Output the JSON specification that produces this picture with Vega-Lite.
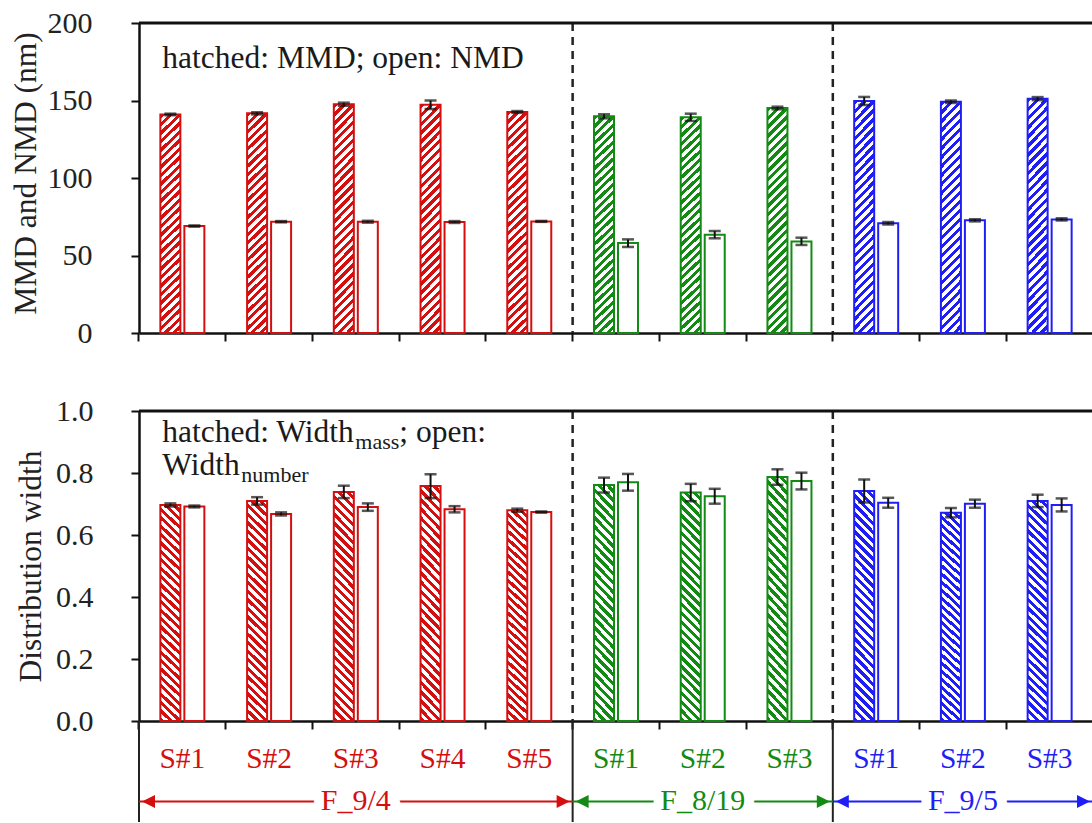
{
  "$schema": "https://vega.github.io/schema/vega-lite/v6.json",
  "background": "white",
  "padding": {"left": 10, "top": 8, "right": 0, "bottom": 0},
  "config": {
    "view": {"stroke": null},
    "font": "Liberation Serif",
    "axis": {"domainColor": "#111", "domainWidth": 2.5, "tickColor": "#111", "tickWidth": 2, "tickSize": 8, "grid": false, "labelFont": "Liberation Serif", "labelColor": "#222", "labelFontSize": 30, "titleFont": "Liberation Serif", "titleFontSize": 31.5, "titleFontWeight": "normal", "titleColor": "#222"},
    "axisY": {"labelPadding": 39}
  },
  "datasets": {
    "samples": [
      {"slot": "F_9/4|S#1", "group": "F_9/4", "sample": "S#1", "mmd": 141, "mmd_lo": 140.5, "mmd_hi": 141.5, "nmd": 69, "nmd_lo": 68.6, "nmd_hi": 69.4, "wm": 0.697, "wm_lo": 0.692, "wm_hi": 0.702, "wn": 0.692, "wn_lo": 0.689, "wn_hi": 0.695},
      {"slot": "F_9/4|S#2", "group": "F_9/4", "sample": "S#2", "mmd": 141.7, "mmd_lo": 141, "mmd_hi": 142.4, "nmd": 71.8, "nmd_lo": 71.4, "nmd_hi": 72.2, "wm": 0.71, "wm_lo": 0.698, "wm_hi": 0.722, "wn": 0.668, "wn_lo": 0.663, "wn_hi": 0.673},
      {"slot": "F_9/4|S#3", "group": "F_9/4", "sample": "S#3", "mmd": 147.6, "mmd_lo": 146.6, "mmd_hi": 148.6, "nmd": 71.8, "nmd_lo": 71.2, "nmd_hi": 72.4, "wm": 0.739, "wm_lo": 0.719, "wm_hi": 0.759, "wn": 0.69, "wn_lo": 0.678, "wn_hi": 0.702},
      {"slot": "F_9/4|S#4", "group": "F_9/4", "sample": "S#4", "mmd": 147.2, "mmd_lo": 144.5, "mmd_hi": 150, "nmd": 71.6, "nmd_lo": 71, "nmd_hi": 72.2, "wm": 0.758, "wm_lo": 0.719, "wm_hi": 0.796, "wn": 0.683, "wn_lo": 0.673, "wn_hi": 0.693},
      {"slot": "F_9/4|S#5", "group": "F_9/4", "sample": "S#5", "mmd": 142.6, "mmd_lo": 142, "mmd_hi": 143.2, "nmd": 72, "nmd_lo": 71.7, "nmd_hi": 72.3, "wm": 0.68, "wm_lo": 0.675, "wm_hi": 0.685, "wn": 0.674, "wn_lo": 0.672, "wn_hi": 0.676},
      {"slot": "F_8/19|S#1", "group": "F_8/19", "sample": "S#1", "mmd": 139.8, "mmd_lo": 138.5, "mmd_hi": 141.1, "nmd": 58, "nmd_lo": 55.5, "nmd_hi": 60.4, "wm": 0.761, "wm_lo": 0.737, "wm_hi": 0.785, "wn": 0.77, "wn_lo": 0.743, "wn_hi": 0.797},
      {"slot": "F_8/19|S#2", "group": "F_8/19", "sample": "S#2", "mmd": 139.2, "mmd_lo": 136.8, "mmd_hi": 141.5, "nmd": 63.4, "nmd_lo": 61.1, "nmd_hi": 65.8, "wm": 0.737, "wm_lo": 0.709, "wm_hi": 0.765, "wn": 0.725, "wn_lo": 0.701, "wn_hi": 0.749},
      {"slot": "F_8/19|S#3", "group": "F_8/19", "sample": "S#3", "mmd": 145.2, "mmd_lo": 144.3, "mmd_hi": 146, "nmd": 59.1, "nmd_lo": 56.8, "nmd_hi": 61.5, "wm": 0.787, "wm_lo": 0.762, "wm_hi": 0.812, "wn": 0.774, "wn_lo": 0.747, "wn_hi": 0.801},
      {"slot": "F_9/5|S#1", "group": "F_9/5", "sample": "S#1", "mmd": 149.7, "mmd_lo": 147.1, "mmd_hi": 152.3, "nmd": 70.8, "nmd_lo": 70, "nmd_hi": 71.6, "wm": 0.742, "wm_lo": 0.705, "wm_hi": 0.779, "wn": 0.704, "wn_lo": 0.688, "wn_hi": 0.72},
      {"slot": "F_9/5|S#2", "group": "F_9/5", "sample": "S#2", "mmd": 149.2, "mmd_lo": 148.4, "mmd_hi": 150, "nmd": 72.7, "nmd_lo": 72, "nmd_hi": 73.4, "wm": 0.672, "wm_lo": 0.657, "wm_hi": 0.687, "wn": 0.701, "wn_lo": 0.688, "wn_hi": 0.714},
      {"slot": "F_9/5|S#3", "group": "F_9/5", "sample": "S#3", "mmd": 151.2, "mmd_lo": 150.2, "mmd_hi": 152.2, "nmd": 73.3, "nmd_lo": 72.6, "nmd_hi": 74, "wm": 0.71, "wm_lo": 0.69, "wm_hi": 0.73, "wn": 0.697, "wn_lo": 0.676, "wn_hi": 0.718}
    ],
    "groups": [
      {"group": "F_9/4", "first": "F_9/4|S#1", "mid": "F_9/4|S#3", "last": "F_9/4|S#5"},
      {"group": "F_8/19", "first": "F_8/19|S#1", "mid": "F_8/19|S#2", "last": "F_8/19|S#3"},
      {"group": "F_9/5", "first": "F_9/5|S#1", "mid": "F_9/5|S#2", "last": "F_9/5|S#3"}
    ]
  },
  "spacing": 78,
  "bounds": "flush",
  "vconcat": [
    {
      "width": 954,
      "height": 310,
      "layer": [
        {
          "data": {"name": "groups"},
          "transform": [{"filter": "datum.group !== 'F_9/4'"}],
          "mark": {"type": "rule", "strokeDash": [8, 6], "strokeWidth": 2.5, "color": "#222"},
          "encoding": {"x": {"field": "first", "type": "nominal", "bandPosition": 0, "scale": {"type": "band", "domain": ["F_9/4|S#1", "F_9/4|S#2", "F_9/4|S#3", "F_9/4|S#4", "F_9/4|S#5", "F_8/19|S#1", "F_8/19|S#2", "F_8/19|S#3", "F_9/5|S#1", "F_9/5|S#2", "F_9/5|S#3"], "paddingInner": 0, "paddingOuter": 0}, "axis": {"title": null, "labels": false, "bandPosition": 0}}}
        },
        {
          "data": {"name": "samples"},
          "mark": {"type": "bar", "width": 20, "xOffset": -12},
          "encoding": {
            "x": {"field": "slot", "type": "nominal"},
            "y": {"field": "mmd", "type": "quantitative", "scale": {"domain": [0, 200]}, "axis": {"title": "MMD and NMD (nm)", "values": [0, 25, 50, 75, 100, 125, 150, 175, 200], "labelExpr": "datum.value % 50 === 0 ? datum.label : ''", "labelPadding": 39, "labelOverlap": false, "titleX": -104, "titleY": 150, "titleBaseline": "alphabetic"}},
            "color": {"field": "group", "type": "nominal", "scale": {"domain": ["F_9/4", "F_8/19", "F_9/5"], "range": ["#d40f0f", "#138a13", "#1f1ff5"]}, "legend": null}
          }
        },
        {
          "data": {"name": "samples"},
          "mark": {"type": "bar", "width": 20, "xOffset": -12, "strokeWidth": 2, "fill": {"gradient": "linear", "x1": 0, "y1": 0, "x2": 0.0956, "y2": 1.08, "stops": [
            {"offset": 0, "color": "rgba(255,255,255,0)"}, {"offset": 0.0179, "color": "rgba(255,255,255,0)"}, {"offset": 0.0179, "color": "#ffffff"}, {"offset": 0.0357, "color": "#ffffff"},
            {"offset": 0.0357, "color": "rgba(255,255,255,0)"}, {"offset": 0.0536, "color": "rgba(255,255,255,0)"}, {"offset": 0.0536, "color": "#ffffff"}, {"offset": 0.0714, "color": "#ffffff"},
            {"offset": 0.0714, "color": "rgba(255,255,255,0)"}, {"offset": 0.0893, "color": "rgba(255,255,255,0)"}, {"offset": 0.0893, "color": "#ffffff"}, {"offset": 0.1071, "color": "#ffffff"},
            {"offset": 0.1071, "color": "rgba(255,255,255,0)"}, {"offset": 0.125, "color": "rgba(255,255,255,0)"}, {"offset": 0.125, "color": "#ffffff"}, {"offset": 0.1429, "color": "#ffffff"},
            {"offset": 0.1429, "color": "rgba(255,255,255,0)"}, {"offset": 0.1607, "color": "rgba(255,255,255,0)"}, {"offset": 0.1607, "color": "#ffffff"}, {"offset": 0.1786, "color": "#ffffff"},
            {"offset": 0.1786, "color": "rgba(255,255,255,0)"}, {"offset": 0.1964, "color": "rgba(255,255,255,0)"}, {"offset": 0.1964, "color": "#ffffff"}, {"offset": 0.2143, "color": "#ffffff"},
            {"offset": 0.2143, "color": "rgba(255,255,255,0)"}, {"offset": 0.2321, "color": "rgba(255,255,255,0)"}, {"offset": 0.2321, "color": "#ffffff"}, {"offset": 0.25, "color": "#ffffff"},
            {"offset": 0.25, "color": "rgba(255,255,255,0)"}, {"offset": 0.2679, "color": "rgba(255,255,255,0)"}, {"offset": 0.2679, "color": "#ffffff"}, {"offset": 0.2857, "color": "#ffffff"},
            {"offset": 0.2857, "color": "rgba(255,255,255,0)"}, {"offset": 0.3036, "color": "rgba(255,255,255,0)"}, {"offset": 0.3036, "color": "#ffffff"}, {"offset": 0.3214, "color": "#ffffff"},
            {"offset": 0.3214, "color": "rgba(255,255,255,0)"}, {"offset": 0.3393, "color": "rgba(255,255,255,0)"}, {"offset": 0.3393, "color": "#ffffff"}, {"offset": 0.3571, "color": "#ffffff"},
            {"offset": 0.3571, "color": "rgba(255,255,255,0)"}, {"offset": 0.375, "color": "rgba(255,255,255,0)"}, {"offset": 0.375, "color": "#ffffff"}, {"offset": 0.3929, "color": "#ffffff"},
            {"offset": 0.3929, "color": "rgba(255,255,255,0)"}, {"offset": 0.4107, "color": "rgba(255,255,255,0)"}, {"offset": 0.4107, "color": "#ffffff"}, {"offset": 0.4286, "color": "#ffffff"},
            {"offset": 0.4286, "color": "rgba(255,255,255,0)"}, {"offset": 0.4464, "color": "rgba(255,255,255,0)"}, {"offset": 0.4464, "color": "#ffffff"}, {"offset": 0.4643, "color": "#ffffff"},
            {"offset": 0.4643, "color": "rgba(255,255,255,0)"}, {"offset": 0.4821, "color": "rgba(255,255,255,0)"}, {"offset": 0.4821, "color": "#ffffff"}, {"offset": 0.5, "color": "#ffffff"},
            {"offset": 0.5, "color": "rgba(255,255,255,0)"}, {"offset": 0.5179, "color": "rgba(255,255,255,0)"}, {"offset": 0.5179, "color": "#ffffff"}, {"offset": 0.5357, "color": "#ffffff"},
            {"offset": 0.5357, "color": "rgba(255,255,255,0)"}, {"offset": 0.5536, "color": "rgba(255,255,255,0)"}, {"offset": 0.5536, "color": "#ffffff"}, {"offset": 0.5714, "color": "#ffffff"},
            {"offset": 0.5714, "color": "rgba(255,255,255,0)"}, {"offset": 0.5893, "color": "rgba(255,255,255,0)"}, {"offset": 0.5893, "color": "#ffffff"}, {"offset": 0.6071, "color": "#ffffff"},
            {"offset": 0.6071, "color": "rgba(255,255,255,0)"}, {"offset": 0.625, "color": "rgba(255,255,255,0)"}, {"offset": 0.625, "color": "#ffffff"}, {"offset": 0.6429, "color": "#ffffff"},
            {"offset": 0.6429, "color": "rgba(255,255,255,0)"}, {"offset": 0.6607, "color": "rgba(255,255,255,0)"}, {"offset": 0.6607, "color": "#ffffff"}, {"offset": 0.6786, "color": "#ffffff"},
            {"offset": 0.6786, "color": "rgba(255,255,255,0)"}, {"offset": 0.6964, "color": "rgba(255,255,255,0)"}, {"offset": 0.6964, "color": "#ffffff"}, {"offset": 0.7143, "color": "#ffffff"},
            {"offset": 0.7143, "color": "rgba(255,255,255,0)"}, {"offset": 0.7321, "color": "rgba(255,255,255,0)"}, {"offset": 0.7321, "color": "#ffffff"}, {"offset": 0.75, "color": "#ffffff"},
            {"offset": 0.75, "color": "rgba(255,255,255,0)"}, {"offset": 0.7679, "color": "rgba(255,255,255,0)"}, {"offset": 0.7679, "color": "#ffffff"}, {"offset": 0.7857, "color": "#ffffff"},
            {"offset": 0.7857, "color": "rgba(255,255,255,0)"}, {"offset": 0.8036, "color": "rgba(255,255,255,0)"}, {"offset": 0.8036, "color": "#ffffff"}, {"offset": 0.8214, "color": "#ffffff"},
            {"offset": 0.8214, "color": "rgba(255,255,255,0)"}, {"offset": 0.8393, "color": "rgba(255,255,255,0)"}, {"offset": 0.8393, "color": "#ffffff"}, {"offset": 0.8571, "color": "#ffffff"},
            {"offset": 0.8571, "color": "rgba(255,255,255,0)"}, {"offset": 0.875, "color": "rgba(255,255,255,0)"}, {"offset": 0.875, "color": "#ffffff"}, {"offset": 0.8929, "color": "#ffffff"},
            {"offset": 0.8929, "color": "rgba(255,255,255,0)"}, {"offset": 0.9107, "color": "rgba(255,255,255,0)"}, {"offset": 0.9107, "color": "#ffffff"}, {"offset": 0.9286, "color": "#ffffff"},
            {"offset": 0.9286, "color": "rgba(255,255,255,0)"}, {"offset": 0.9464, "color": "rgba(255,255,255,0)"}, {"offset": 0.9464, "color": "#ffffff"}, {"offset": 0.9643, "color": "#ffffff"},
            {"offset": 0.9643, "color": "rgba(255,255,255,0)"}, {"offset": 0.9821, "color": "rgba(255,255,255,0)"}, {"offset": 0.9821, "color": "#ffffff"}, {"offset": 1, "color": "#ffffff"}
          ]}},
          "encoding": {
            "x": {"field": "slot", "type": "nominal"},
            "y": {"field": "mmd", "type": "quantitative"},
            "stroke": {"field": "group", "type": "nominal", "scale": {"domain": ["F_9/4", "F_8/19", "F_9/5"], "range": ["#d40f0f", "#138a13", "#1f1ff5"]}, "legend": null}
          }
        },
        {
          "data": {"name": "samples"},
          "mark": {"type": "bar", "width": 20, "xOffset": 12, "fill": "white", "strokeWidth": 2},
          "encoding": {
            "x": {"field": "slot", "type": "nominal"},
            "y": {"field": "nmd", "type": "quantitative"},
            "stroke": {"field": "group", "type": "nominal", "legend": null}
          }
        },
        {
          "data": {"name": "samples"},
          "mark": {"type": "rule", "xOffset": -12, "strokeWidth": 2, "color": "#111"},
          "encoding": {"x": {"field": "slot", "type": "nominal"}, "y": {"field": "mmd_lo", "type": "quantitative"}, "y2": {"field": "mmd_hi"}}
        },
        {
          "data": {"name": "samples"},
          "mark": {"type": "tick", "xOffset": -12, "size": 12, "thickness": 2.5, "color": "#111", "orient": "horizontal"},
          "encoding": {"x": {"field": "slot", "type": "nominal"}, "y": {"field": "mmd_lo", "type": "quantitative"}}
        },
        {
          "data": {"name": "samples"},
          "mark": {"type": "tick", "xOffset": -12, "size": 12, "thickness": 2.5, "color": "#111", "orient": "horizontal"},
          "encoding": {"x": {"field": "slot", "type": "nominal"}, "y": {"field": "mmd_hi", "type": "quantitative"}}
        },
        {
          "data": {"name": "samples"},
          "mark": {"type": "rule", "xOffset": 12, "strokeWidth": 2, "color": "#111"},
          "encoding": {"x": {"field": "slot", "type": "nominal"}, "y": {"field": "nmd_lo", "type": "quantitative"}, "y2": {"field": "nmd_hi"}}
        },
        {
          "data": {"name": "samples"},
          "mark": {"type": "tick", "xOffset": 12, "size": 12, "thickness": 2.5, "color": "#111", "orient": "horizontal"},
          "encoding": {"x": {"field": "slot", "type": "nominal"}, "y": {"field": "nmd_lo", "type": "quantitative"}}
        },
        {
          "data": {"name": "samples"},
          "mark": {"type": "tick", "xOffset": 12, "size": 12, "thickness": 2.5, "color": "#111", "orient": "horizontal"},
          "encoding": {"x": {"field": "slot", "type": "nominal"}, "y": {"field": "nmd_hi", "type": "quantitative"}}
        },
        {
          "data": {"values": [{}]},
          "mark": {"type": "rule", "strokeWidth": 3, "color": "#111"},
          "encoding": {"y": {"datum": 200, "type": "quantitative"}}
        },
        {
          "data": {"values": [{}]},
          "mark": {"type": "text", "text": "hatched: MMD; open: NMD", "align": "left", "baseline": "alphabetic", "fontSize": 31.5, "dx": -20, "color": "#1a1a1a"},
          "encoding": {"x": {"datum": "F_9/4|S#1", "type": "nominal"}, "y": {"datum": 171, "type": "quantitative"}}
        }
      ]
    },
    {
      "spacing": 0,
      "bounds": "flush",
      "vconcat": [
        {
          "width": 954,
          "height": 310,
          "layer": [
            {
              "data": {"name": "groups"},
              "transform": [{"filter": "datum.group !== 'F_9/4'"}],
              "mark": {"type": "rule", "strokeDash": [8, 6], "strokeWidth": 2.5, "color": "#222"},
              "encoding": {"x": {"field": "first", "type": "nominal", "bandPosition": 0, "scale": {"type": "band", "domain": ["F_9/4|S#1", "F_9/4|S#2", "F_9/4|S#3", "F_9/4|S#4", "F_9/4|S#5", "F_8/19|S#1", "F_8/19|S#2", "F_8/19|S#3", "F_9/5|S#1", "F_9/5|S#2", "F_9/5|S#3"], "paddingInner": 0, "paddingOuter": 0}, "axis": {"title": null, "labels": false, "bandPosition": 0}}}
            },
            {
              "data": {"name": "samples"},
              "mark": {"type": "bar", "width": 20, "xOffset": -12},
              "encoding": {
                "x": {"field": "slot", "type": "nominal"},
                "y": {"field": "wm", "type": "quantitative", "scale": {"domain": [0, 1]}, "axis": {"title": "Distribution width", "values": [0, 0.1, 0.2, 0.3, 0.4, 0.5, 0.6, 0.7, 0.8, 0.9, 1], "labelExpr": "round(datum.value * 10) % 2 === 0 ? format(datum.value, '.1f') : ''", "labelPadding": 38, "labelOverlap": false, "titleX": -99, "titleY": 155, "titleBaseline": "alphabetic"}},
                "color": {"field": "group", "type": "nominal", "scale": {"domain": ["F_9/4", "F_8/19", "F_9/5"], "range": ["#d40f0f", "#138a13", "#1f1ff5"]}, "legend": null}
              }
            },
            {
              "data": {"name": "samples"},
              "mark": {"type": "bar", "width": 20, "xOffset": -12, "strokeWidth": 2, "fill": {"gradient": "linear", "x1": 0, "y1": 1, "x2": 0.0956, "y2": -0.08, "stops": [
                {"offset": 0, "color": "rgba(255,255,255,0)"}, {"offset": 0.0179, "color": "rgba(255,255,255,0)"}, {"offset": 0.0179, "color": "#ffffff"}, {"offset": 0.0357, "color": "#ffffff"},
                {"offset": 0.0357, "color": "rgba(255,255,255,0)"}, {"offset": 0.0536, "color": "rgba(255,255,255,0)"}, {"offset": 0.0536, "color": "#ffffff"}, {"offset": 0.0714, "color": "#ffffff"},
                {"offset": 0.0714, "color": "rgba(255,255,255,0)"}, {"offset": 0.0893, "color": "rgba(255,255,255,0)"}, {"offset": 0.0893, "color": "#ffffff"}, {"offset": 0.1071, "color": "#ffffff"},
                {"offset": 0.1071, "color": "rgba(255,255,255,0)"}, {"offset": 0.125, "color": "rgba(255,255,255,0)"}, {"offset": 0.125, "color": "#ffffff"}, {"offset": 0.1429, "color": "#ffffff"},
                {"offset": 0.1429, "color": "rgba(255,255,255,0)"}, {"offset": 0.1607, "color": "rgba(255,255,255,0)"}, {"offset": 0.1607, "color": "#ffffff"}, {"offset": 0.1786, "color": "#ffffff"},
                {"offset": 0.1786, "color": "rgba(255,255,255,0)"}, {"offset": 0.1964, "color": "rgba(255,255,255,0)"}, {"offset": 0.1964, "color": "#ffffff"}, {"offset": 0.2143, "color": "#ffffff"},
                {"offset": 0.2143, "color": "rgba(255,255,255,0)"}, {"offset": 0.2321, "color": "rgba(255,255,255,0)"}, {"offset": 0.2321, "color": "#ffffff"}, {"offset": 0.25, "color": "#ffffff"},
                {"offset": 0.25, "color": "rgba(255,255,255,0)"}, {"offset": 0.2679, "color": "rgba(255,255,255,0)"}, {"offset": 0.2679, "color": "#ffffff"}, {"offset": 0.2857, "color": "#ffffff"},
                {"offset": 0.2857, "color": "rgba(255,255,255,0)"}, {"offset": 0.3036, "color": "rgba(255,255,255,0)"}, {"offset": 0.3036, "color": "#ffffff"}, {"offset": 0.3214, "color": "#ffffff"},
                {"offset": 0.3214, "color": "rgba(255,255,255,0)"}, {"offset": 0.3393, "color": "rgba(255,255,255,0)"}, {"offset": 0.3393, "color": "#ffffff"}, {"offset": 0.3571, "color": "#ffffff"},
                {"offset": 0.3571, "color": "rgba(255,255,255,0)"}, {"offset": 0.375, "color": "rgba(255,255,255,0)"}, {"offset": 0.375, "color": "#ffffff"}, {"offset": 0.3929, "color": "#ffffff"},
                {"offset": 0.3929, "color": "rgba(255,255,255,0)"}, {"offset": 0.4107, "color": "rgba(255,255,255,0)"}, {"offset": 0.4107, "color": "#ffffff"}, {"offset": 0.4286, "color": "#ffffff"},
                {"offset": 0.4286, "color": "rgba(255,255,255,0)"}, {"offset": 0.4464, "color": "rgba(255,255,255,0)"}, {"offset": 0.4464, "color": "#ffffff"}, {"offset": 0.4643, "color": "#ffffff"},
                {"offset": 0.4643, "color": "rgba(255,255,255,0)"}, {"offset": 0.4821, "color": "rgba(255,255,255,0)"}, {"offset": 0.4821, "color": "#ffffff"}, {"offset": 0.5, "color": "#ffffff"},
                {"offset": 0.5, "color": "rgba(255,255,255,0)"}, {"offset": 0.5179, "color": "rgba(255,255,255,0)"}, {"offset": 0.5179, "color": "#ffffff"}, {"offset": 0.5357, "color": "#ffffff"},
                {"offset": 0.5357, "color": "rgba(255,255,255,0)"}, {"offset": 0.5536, "color": "rgba(255,255,255,0)"}, {"offset": 0.5536, "color": "#ffffff"}, {"offset": 0.5714, "color": "#ffffff"},
                {"offset": 0.5714, "color": "rgba(255,255,255,0)"}, {"offset": 0.5893, "color": "rgba(255,255,255,0)"}, {"offset": 0.5893, "color": "#ffffff"}, {"offset": 0.6071, "color": "#ffffff"},
                {"offset": 0.6071, "color": "rgba(255,255,255,0)"}, {"offset": 0.625, "color": "rgba(255,255,255,0)"}, {"offset": 0.625, "color": "#ffffff"}, {"offset": 0.6429, "color": "#ffffff"},
                {"offset": 0.6429, "color": "rgba(255,255,255,0)"}, {"offset": 0.6607, "color": "rgba(255,255,255,0)"}, {"offset": 0.6607, "color": "#ffffff"}, {"offset": 0.6786, "color": "#ffffff"},
                {"offset": 0.6786, "color": "rgba(255,255,255,0)"}, {"offset": 0.6964, "color": "rgba(255,255,255,0)"}, {"offset": 0.6964, "color": "#ffffff"}, {"offset": 0.7143, "color": "#ffffff"},
                {"offset": 0.7143, "color": "rgba(255,255,255,0)"}, {"offset": 0.7321, "color": "rgba(255,255,255,0)"}, {"offset": 0.7321, "color": "#ffffff"}, {"offset": 0.75, "color": "#ffffff"},
                {"offset": 0.75, "color": "rgba(255,255,255,0)"}, {"offset": 0.7679, "color": "rgba(255,255,255,0)"}, {"offset": 0.7679, "color": "#ffffff"}, {"offset": 0.7857, "color": "#ffffff"},
                {"offset": 0.7857, "color": "rgba(255,255,255,0)"}, {"offset": 0.8036, "color": "rgba(255,255,255,0)"}, {"offset": 0.8036, "color": "#ffffff"}, {"offset": 0.8214, "color": "#ffffff"},
                {"offset": 0.8214, "color": "rgba(255,255,255,0)"}, {"offset": 0.8393, "color": "rgba(255,255,255,0)"}, {"offset": 0.8393, "color": "#ffffff"}, {"offset": 0.8571, "color": "#ffffff"},
                {"offset": 0.8571, "color": "rgba(255,255,255,0)"}, {"offset": 0.875, "color": "rgba(255,255,255,0)"}, {"offset": 0.875, "color": "#ffffff"}, {"offset": 0.8929, "color": "#ffffff"},
                {"offset": 0.8929, "color": "rgba(255,255,255,0)"}, {"offset": 0.9107, "color": "rgba(255,255,255,0)"}, {"offset": 0.9107, "color": "#ffffff"}, {"offset": 0.9286, "color": "#ffffff"},
                {"offset": 0.9286, "color": "rgba(255,255,255,0)"}, {"offset": 0.9464, "color": "rgba(255,255,255,0)"}, {"offset": 0.9464, "color": "#ffffff"}, {"offset": 0.9643, "color": "#ffffff"},
                {"offset": 0.9643, "color": "rgba(255,255,255,0)"}, {"offset": 0.9821, "color": "rgba(255,255,255,0)"}, {"offset": 0.9821, "color": "#ffffff"}, {"offset": 1, "color": "#ffffff"}
              ]}},
              "encoding": {
                "x": {"field": "slot", "type": "nominal"},
                "y": {"field": "wm", "type": "quantitative"},
                "stroke": {"field": "group", "type": "nominal", "scale": {"domain": ["F_9/4", "F_8/19", "F_9/5"], "range": ["#d40f0f", "#138a13", "#1f1ff5"]}, "legend": null}
              }
            },
            {
              "data": {"name": "samples"},
              "mark": {"type": "bar", "width": 20, "xOffset": 12, "fill": "white", "strokeWidth": 2},
              "encoding": {
                "x": {"field": "slot", "type": "nominal"},
                "y": {"field": "wn", "type": "quantitative"},
                "stroke": {"field": "group", "type": "nominal", "legend": null}
              }
            },
            {
              "data": {"name": "samples"},
              "mark": {"type": "rule", "xOffset": -12, "strokeWidth": 2, "color": "#111"},
              "encoding": {"x": {"field": "slot", "type": "nominal"}, "y": {"field": "wm_lo", "type": "quantitative"}, "y2": {"field": "wm_hi"}}
            },
            {
              "data": {"name": "samples"},
              "mark": {"type": "tick", "xOffset": -12, "size": 12, "thickness": 2.5, "color": "#111", "orient": "horizontal"},
              "encoding": {"x": {"field": "slot", "type": "nominal"}, "y": {"field": "wm_lo", "type": "quantitative"}}
            },
            {
              "data": {"name": "samples"},
              "mark": {"type": "tick", "xOffset": -12, "size": 12, "thickness": 2.5, "color": "#111", "orient": "horizontal"},
              "encoding": {"x": {"field": "slot", "type": "nominal"}, "y": {"field": "wm_hi", "type": "quantitative"}}
            },
            {
              "data": {"name": "samples"},
              "mark": {"type": "rule", "xOffset": 12, "strokeWidth": 2, "color": "#111"},
              "encoding": {"x": {"field": "slot", "type": "nominal"}, "y": {"field": "wn_lo", "type": "quantitative"}, "y2": {"field": "wn_hi"}}
            },
            {
              "data": {"name": "samples"},
              "mark": {"type": "tick", "xOffset": 12, "size": 12, "thickness": 2.5, "color": "#111", "orient": "horizontal"},
              "encoding": {"x": {"field": "slot", "type": "nominal"}, "y": {"field": "wn_lo", "type": "quantitative"}}
            },
            {
              "data": {"name": "samples"},
              "mark": {"type": "tick", "xOffset": 12, "size": 12, "thickness": 2.5, "color": "#111", "orient": "horizontal"},
              "encoding": {"x": {"field": "slot", "type": "nominal"}, "y": {"field": "wn_hi", "type": "quantitative"}}
            },
            {
              "data": {"values": [{}]},
              "mark": {"type": "rule", "strokeWidth": 3, "color": "#111"},
              "encoding": {"y": {"datum": 1, "type": "quantitative"}}
            },
            {
              "data": {"values": [{}]},
              "mark": {"type": "text", "text": "hatched: Width", "align": "left", "baseline": "alphabetic", "fontSize": 31.5, "dx": -20, "color": "#1a1a1a"},
              "encoding": {"x": {"datum": "F_9/4|S#1", "type": "nominal"}, "y": {"datum": 0.9, "type": "quantitative"}}
            },
            {
              "data": {"values": [{}]},
              "mark": {"type": "text", "text": "mass", "align": "left", "baseline": "alphabetic", "fontSize": 22, "dx": 173, "dy": 7, "color": "#1a1a1a"},
              "encoding": {"x": {"datum": "F_9/4|S#1", "type": "nominal"}, "y": {"datum": 0.9, "type": "quantitative"}}
            },
            {
              "data": {"values": [{}]},
              "mark": {"type": "text", "text": "; open:", "align": "left", "baseline": "alphabetic", "fontSize": 31.5, "dx": 217, "color": "#1a1a1a"},
              "encoding": {"x": {"datum": "F_9/4|S#1", "type": "nominal"}, "y": {"datum": 0.9, "type": "quantitative"}}
            },
            {
              "data": {"values": [{}]},
              "mark": {"type": "text", "text": "Width", "align": "left", "baseline": "alphabetic", "fontSize": 31.5, "dx": -20, "dy": 33, "color": "#1a1a1a"},
              "encoding": {"x": {"datum": "F_9/4|S#1", "type": "nominal"}, "y": {"datum": 0.9, "type": "quantitative"}}
            },
            {
              "data": {"values": [{}]},
              "mark": {"type": "text", "text": "number", "align": "left", "baseline": "alphabetic", "fontSize": 22, "dx": 59, "dy": 40, "color": "#1a1a1a"},
              "encoding": {"x": {"datum": "F_9/4|S#1", "type": "nominal"}, "y": {"datum": 0.9, "type": "quantitative"}}
            }
          ]
        },
        {
          "width": 954,
          "height": 101,
          "layer": [
            {
              "data": {"name": "groups"},
              "mark": {"type": "rule", "strokeWidth": 2, "color": "#222"},
              "encoding": {"x": {"field": "first", "type": "nominal", "bandPosition": 0, "scale": {"type": "band", "domain": ["F_9/4|S#1", "F_9/4|S#2", "F_9/4|S#3", "F_9/4|S#4", "F_9/4|S#5", "F_8/19|S#1", "F_8/19|S#2", "F_8/19|S#3", "F_9/5|S#1", "F_9/5|S#2", "F_9/5|S#3"], "paddingInner": 0, "paddingOuter": 0}, "axis": null}}
            },
            {
              "data": {"name": "samples"},
              "mark": {"type": "text", "fontSize": 29.5, "baseline": "alphabetic", "dy": -4},
              "encoding": {
                "x": {"field": "slot", "type": "nominal"},
                "text": {"field": "sample", "type": "nominal"},
                "color": {"field": "group", "type": "nominal", "scale": {"domain": ["F_9/4", "F_8/19", "F_9/5"], "range": ["#d40f0f", "#138a13", "#1f1ff5"]}, "legend": null}
              }
            },
            {
              "data": {"name": "groups"},
              "mark": {"type": "rule", "strokeWidth": 2, "yOffset": 30},
              "encoding": {
                "x": {"field": "first", "type": "nominal", "bandPosition": 0},
                "x2": {"field": "last", "bandPosition": 1},
                "color": {"field": "group", "type": "nominal", "legend": null}
              }
            },
            {
              "data": {"name": "groups"},
              "mark": {"type": "text", "fontSize": 30, "baseline": "alphabetic", "dy": 38, "fill": "white", "stroke": "white", "strokeWidth": 20, "strokeJoin": "round"},
              "encoding": {
                "x": {"field": "mid", "type": "nominal"},
                "text": {"field": "group", "type": "nominal"}
              }
            },
            {
              "data": {"name": "groups"},
              "mark": {"type": "text", "fontSize": 30, "baseline": "alphabetic", "dy": 38},
              "encoding": {
                "x": {"field": "mid", "type": "nominal"},
                "text": {"field": "group", "type": "nominal"},
                "color": {"field": "group", "type": "nominal", "legend": null}
              }
            },
            {
              "data": {"name": "groups"},
              "mark": {"type": "point", "shape": "M0,0L1,-0.5L1,0.5Z", "size": 676, "filled": true, "opacity": 1, "xOffset": 3, "yOffset": 30},
              "encoding": {
                "x": {"field": "first", "type": "nominal", "bandPosition": 0},
                "color": {"field": "group", "type": "nominal", "legend": null}
              }
            },
            {
              "data": {"name": "groups"},
              "mark": {"type": "point", "shape": "M0,0L-1,-0.5L-1,0.5Z", "size": 676, "filled": true, "opacity": 1, "xOffset": -3, "yOffset": 30},
              "encoding": {
                "x": {"field": "last", "type": "nominal", "bandPosition": 1},
                "color": {"field": "group", "type": "nominal", "legend": null}
              }
            }
          ]
        }
      ]
    }
  ]
}
